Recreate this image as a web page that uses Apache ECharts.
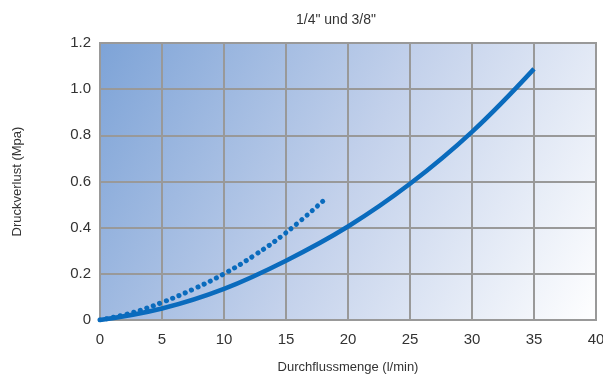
<!DOCTYPE html>
<html>
<head>
<meta charset="utf-8">
<script src="https://cdn.jsdelivr.net/npm/echarts@6/dist/echarts.min.js"></script>
<style>html,body{margin:0;padding:0;background:#fff}#c{width:603px;height:379px}</style>
</head>
<body>
<div id="c"></div>
<script>
var titleText = '1/4" und 3/8"';
var xName = 'Durchflussmenge (l/min)';
var yName = 'Druckverlust (Mpa)';
var solidX = [0, 5, 10, 15, 20, 25, 30, 35];
var solidY = [0, 0.05, 0.135, 0.257, 0.405, 0.59, 0.815, 1.088];
var dotX = [0, 2.5, 5, 7.5, 10, 12.5, 15, 18];
var dotY = [0, 0.03, 0.076, 0.133, 0.2, 0.282, 0.378, 0.516];

var chart = echarts.init(document.getElementById('c'));
function pairs(xs, ys){ return xs.map(function(x,i){return [x, ys[i]];}); }
chart.setOption({
  animation: false,
  title: { text: titleText, left: 331, top: 8, textAlign: 'center',
    textStyle: { fontFamily: 'Liberation Sans, Arial', fontSize: 14, fontWeight: 'normal', color: '#333' } },
  grid: { left: 100, right: 7, top: 43, bottom: 59, show: true, outerBoundsMode: 'none', containLabel: false,
    borderColor: '#999', borderWidth: 2,
    backgroundColor: { type: 'linear', x: 0, y: 0, x2: 1, y2: 1,
      colorStops: [{offset: 0, color: '#7da3d7'}, {offset: 0.5, color: '#c3d1eb'}, {offset: 1, color: '#ffffff'}] } },
  xAxis: { type: 'value', min: 0, max: 40, interval: 5,
    name: xName, nameLocation: 'middle', nameGap: 41,
    nameTextStyle: { fontFamily: 'Liberation Sans, Arial', fontSize: 13, color: '#333' },
    axisLine: { show: false }, axisTick: { show: false },
    axisLabel: { fontFamily: 'Liberation Sans, Arial', fontSize: 15, color: '#333', margin: 12 },
    splitLine: { lineStyle: { color: '#999', width: 2 } } },
  yAxis: { type: 'value', min: 0, max: 1.2, interval: 0.2,
    name: yName, nameLocation: 'middle', nameGap: 76,
    nameTextStyle: { fontFamily: 'Liberation Sans, Arial', fontSize: 13, color: '#333' },
    axisLine: { show: false }, axisTick: { show: false },
    axisLabel: { fontFamily: 'Liberation Sans, Arial', fontSize: 15, color: '#333', margin: 9,
      formatter: function(v){ return v === 0 ? '0' : v.toFixed(1); } },
    splitLine: { lineStyle: { color: '#999', width: 2 } } },
  series: [
    { type: 'line', data: pairs(dotX, dotY), smooth: 0.4, showSymbol: false,
      lineStyle: { color: '#0a6bbd', width: 5, type: [0.1, 6.8], cap: 'round' }, z: 2 },
    { type: 'line', data: pairs(solidX, solidY), smooth: 0.4, showSymbol: false,
      lineStyle: { color: '#0a6bbd', width: 4.5 }, z: 3 }
  ]
});
</script>
</body>
</html>
